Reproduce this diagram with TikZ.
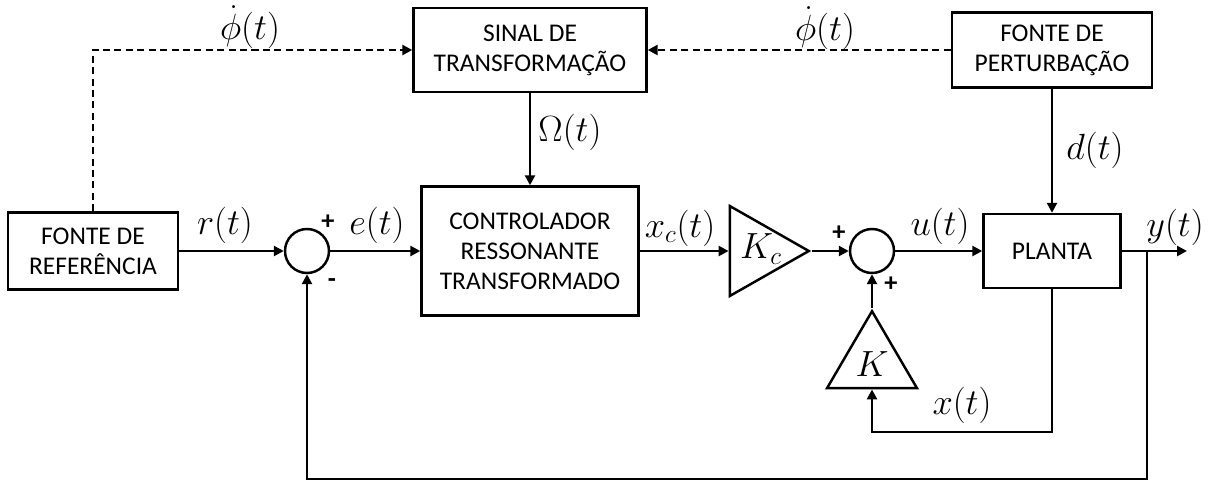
\documentclass[tikz,border=0pt]{standalone}
\usepackage[no-math]{fontspec}
\setmainfont{Carlito}
\usetikzlibrary{positioning, arrows.meta}
\usetikzlibrary{shapes.geometric}
\tikzstyle{block}=[rectangle, draw=black, line width=1.4pt, align=center,
font=\fontsize{14.5}{17}\selectfont, inner sep=0pt]
\tikzstyle{junct}=[circle, draw=black, line width=1.4pt, minimum size=0.88cm, inner sep=0pt]
\tikzstyle{gain}=[isosceles triangle, isosceles triangle stretches, draw=black,
line width=1.4pt, inner sep=0pt, minimum width=1.8cm]
\tikzstyle{lbl}=[font=\fontsize{20}{22}\selectfont, inner sep=0pt]
\tikzstyle{sgn}=[font=\fontsize{15}{16}\selectfont\bfseries, inner sep=0pt]
\tikzstyle{sig}=[line width=1.4pt, -{Triangle[length=0.2cm,width=0.2cm]}]

\begin{document}
\begin{tikzpicture}[x=0.02cm, y=-0.02cm]
\useasboundingbox (0,0) rectangle (1219,483);

\node [block, minimum width=3.4cm, minimum height=1.54cm] (ref) at (93,251) {FONTE DE\\REFERÊNCIA};
\node [block, minimum width=4.66cm, minimum height=1.68cm] (sinal) at (530,50) {SINAL DE\\TRANSFORMAÇÃO};
\node [block, minimum width=4.0cm, minimum height=1.5cm] (pert) at (1052,50) {FONTE DE\\PERTURBAÇÃO};
\node [block, minimum width=4.34cm, minimum height=2.58cm] (ctrl) at (530,251) {CONTROLADOR\\RESSONANTE\\TRANSFORMADO};
\node [block, minimum width=2.74cm, minimum height=1.48cm] (planta) at (1052,251) {PLANTA};

\node [junct] (s1) at (307,251) {};
\node [junct] (s2) at (872,251) {};

\node [gain, shape border rotate=0, minimum height=1.58cm, anchor=apex] (kc) at (812,251) {};
\node [gain, shape border rotate=90, minimum height=1.54cm, anchor=apex] (k) at (872,308) {};
\node [lbl] (kcl) at (761,249) {$K_c$};
\node [lbl] (kl) at (872,364) {$K$};

\coordinate (yout) at (1187,251);
\coordinate (br) at (1147,251);
\coordinate (br1) at (1147,479);
\coordinate (br2) at (307,479);
\coordinate (xp1) at (1052,432);
\coordinate (xp2) at (872,432);
\coordinate (rp) at (93,50);

% main path
\draw [sig] (ref) -- (s1);
\draw [sig] (s1) -- (ctrl);
\draw [sig] (ctrl) -- (kc.lower side);
\draw [sig] (kc.apex) -- (s2);
\draw [sig] (s2) -- (planta);
\draw [sig] (planta) -- (yout);
\draw [sig] (sinal) -- (ctrl);
\draw [sig] (pert) -- (planta);

% feedback
\draw [sig] (br) -- (br1) -- (br2) -- (s1);
\draw [sig] (planta.south) -- (xp1) -- (xp2) -- (k.lower side);
\draw [sig] (k.apex) -- (s2);

% dashed
\draw [sig, dash pattern=on 4pt off 2.5pt] (pert) -- (sinal);
\draw [sig, dash pattern=on 4pt off 2.5pt] (ref) -- (rp) -- (sinal);

% signals
\node [lbl] (phi1) at (250,27) {$\dot{\phi}(t)$};
\node [lbl] (phi2) at (825,28) {$\dot{\phi}(t)$};
\node [lbl] (om) at (570,132) {$\Omega(t)$};
\node [lbl] (dl) at (1095,150) {$d(t)$};
\node [lbl] (rl) at (225,225) {$r(t)$};
\node [lbl] (el) at (377,225) {$e(t)$};
\node [lbl] (xcl) at (680,228) {$x_c(t)$};
\node [lbl] (ul) at (940,226) {$u(t)$};
\node [lbl] (yl) at (1175,227) {$y(t)$};
\node [lbl] (xl) at (962,405) {$x(t)$};

\node [sgn] (p1) at (328,222) {+};
\node [sgn] (m1) at (332,283) {-};
\node [sgn] (p2) at (839,233) {+};
\node [sgn] (p3) at (891,284) {+};

\end{tikzpicture}
\end{document}
